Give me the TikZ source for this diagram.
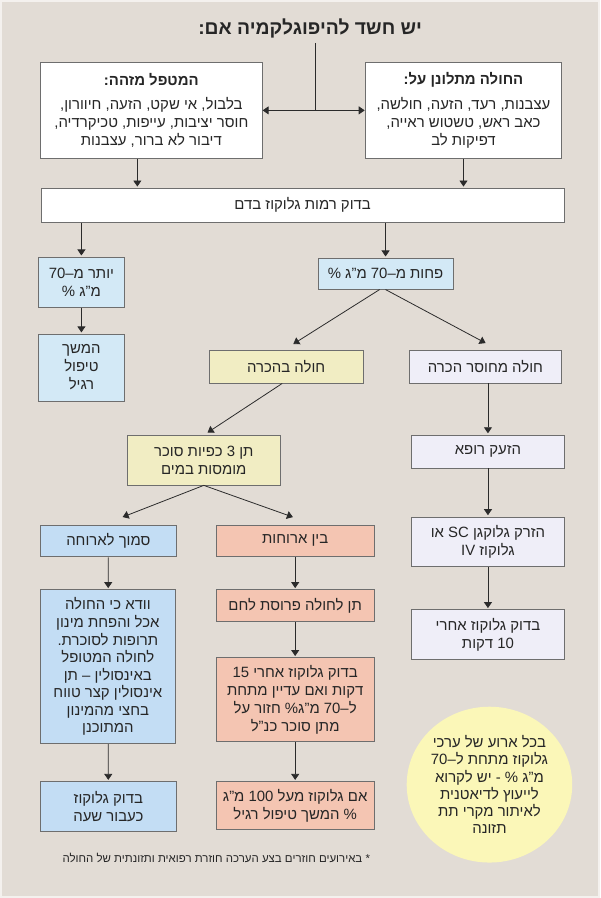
\documentclass[tikz,border=0pt]{standalone}
\usepackage{fontspec}
\setmainfont{Liberation Sans}[Script=Hebrew]
\TeXXeTstate=1
\usetikzlibrary{arrows.meta,shapes.geometric}

\definecolor{bgc}{HTML}{E2DCD5}
\definecolor{edgec}{HTML}{6E6E6E}
\definecolor{arrc}{HTML}{2B2B2B}
\definecolor{txtc}{HTML}{262626}
\definecolor{lblue}{HTML}{D3E9F6}
\definecolor{mblue}{HTML}{C3DDF4}
\definecolor{salmon}{HTML}{F4C5B2}
\definecolor{ybox}{HTML}{F1EDC3}
\definecolor{lav}{HTML}{EFEEF8}
\definecolor{ycirc}{HTML}{FBF7B8}

\newcommand{\rl}[1]{\beginR #1\endR}

\begin{document}
\begin{tikzpicture}[x=0.75pt,y=-0.75pt,
        every node/.style={text=txtc},
        box/.style={rectangle,draw=edgec,line width=0.6pt,align=center,inner sep=2pt,
          font=\fontsize{11.2}{13.5}\selectfont},
        arr/.style={draw=arrc,line width=0.6pt,-{Triangle[width=6pt,length=4.5pt]}}]

        \fill[bgc] (0,0) rectangle (600,898);
        \draw[white!60!bgc,line width=1.5pt] (0.5,0.5) rectangle (599.5,897.5);

        \node[font=\fontsize{14.5}{17}\selectfont\bfseries] (title) at (310,28) {\rl{יש חשד להיפוגלקמיה אם:}};

        \begin{scope}[every node/.append style={box}]
          \node[fill=white,minimum width=166.5pt,minimum height=72pt] (watch) at (151,110)
            {\textbf{\rl{המטפל מזהה:}}\\[5pt]\rl{בלבול, אי שקט, הזעה, חיוורון,}\\\rl{חוסר יציבות, עייפות, טכיקרדיה,}\\\rl{דיבור לא ברור, עצבנות}};
          \node[fill=white,minimum width=147.75pt,minimum height=72pt] (compl) at (463.5,110)
            {\textbf{\rl{החולה מתלונן על:}}\\[5pt]\rl{עצבנות, רעד, הזעה, חולשה,}\\\rl{כאב ראש, טשטוש ראייה,}\\\rl{דפיקות לב}};
          \node[fill=white,minimum width=393pt,minimum height=25.5pt] (check) at (302.5,205) {\rl{בדוק רמות גלוקוז בדם}};

          \node[fill=lblue,minimum width=64.5pt,minimum height=37.5pt] (above) at (81,282) {\rl{יותר מ–70}\\\rl{מ"ג \%}};
          \node[fill=lblue,minimum width=64.5pt,minimum height=50.25pt] (cont) at (81,367.5) {\rl{המשך}\\\rl{טיפול}\\\rl{רגיל}};
          \node[fill=lblue,minimum width=101.25pt,minimum height=23.25pt] (below) at (385.5,273.5) {\rl{פחות מ–70 מ"ג \%}};

          \node[fill=ybox,minimum width=115.5pt,minimum height=24.75pt] (consc) at (286,366.5) {\rl{חולה בהכרה}};
          \node[fill=lav,minimum width=114.75pt,minimum height=24.75pt] (uncon) at (485.5,366.5) {\rl{חולה מחוסר הכרה}};

          \node[fill=ybox,minimum width=114.75pt,minimum height=37.5pt] (sugar) at (203.5,460) {\rl{תן 3 כפיות סוכר}\\\rl{מומסות במים}};
          \node[fill=lav,minimum width=115.5pt,minimum height=24.75pt] (doctor) at (488,451.5) {\rl{הזעק רופא}};
          \node[fill=lav,minimum width=115.5pt,minimum height=37.5pt] (inject) at (488,542) {\rl{הזרק גלוקגן SC או}\\\rl{גלוקוז IV}};
          \node[fill=lav,minimum width=115.5pt,minimum height=37.5pt] (ten) at (488,635) {\rl{בדוק גלוקוז אחרי}\\\rl{10 דקות}};

          \node[fill=mblue,minimum width=102pt,minimum height=24pt] (meal) at (108,541) {\rl{סמוך לארוחה}};
          \node[fill=salmon,minimum width=118.5pt,minimum height=24pt] (between) at (295,541) {\rl{בין ארוחות}};
          \node[fill=mblue,minimum width=101.25pt,minimum height=115.5pt,font=\fontsize{11.2}{13.2}\selectfont] (verify) at (107.5,667)
            {\rl{וודא כי החולה}\\\rl{אכל והפחת מינון}\\\rl{תרופות לסוכרת.}\\\rl{לחולה המטופל}\\\rl{באינסולין – תן}\\\rl{אינסולין קצר טווח}\\\rl{בחצי מהמינון}\\\rl{המתוכנן}};
          \node[fill=salmon,minimum width=118.5pt,minimum height=24pt] (bread) at (295,606) {\rl{תן לחולה פרוסת לחם}};
          \node[fill=salmon,minimum width=118.5pt,minimum height=63pt] (fifteen) at (295,700)
            {\rl{בדוק גלוקוז אחרי 15}\\\rl{דקות ואם עדיין מתחת}\\\rl{ל–70 מ"ג\% חזור על}\\\rl{מתן סוכר כנ"ל}};
          \node[fill=mblue,minimum width=102pt,minimum height=37.5pt] (hour) at (108,807) {\rl{בדוק גלוקוז}\\\rl{כעבור שעה}};
          \node[fill=salmon,minimum width=118.5pt,minimum height=36pt] (normal) at (295,806) {\rl{אם גלוקוז מעל 100 מ"ג}\\\rl{\% המשך טיפול רגיל}};
        \end{scope}

        \node[ellipse,fill=ycirc,inner sep=0pt,minimum width=116.25pt,minimum height=117pt,align=center,
          font=\fontsize{11.2}{13}\selectfont] (diet) at (489.5,785)
          {\rl{בכל ארוע של ערכי}\\\rl{גלוקוז מתחת ל–70}\\\rl{מ"ג \% - יש לקרוא}\\\rl{לייעוץ לדיאטנית}\\\rl{לאיתור מקרי תת}\\\rl{תזונה}};

        \node[font=\fontsize{8.6}{10}\selectfont] (note) at (216,858) {\rl{* באירועים חוזרים בצע הערכה חוזרת רפואית ותזונתית של החולה}};

        \coordinate (fork) at (315,110);
        \draw[draw=arrc,line width=0.6pt] (fork |- title.south) -- (fork);
        \draw[arr] (fork) -- (watch.east);
        \draw[arr] (fork) -- (compl.west);

        \begin{scope}[every path/.append style={shorten >=1pt}]
          \path[arr] ([xshift=-10.5pt]watch.south) -- ([xshift=-10.5pt]watch.south |- check.north);
          \path[arr] (compl.south) -- (compl.south |- check.north);
          \path[arr] (above.north |- check.south) -- (above.north);
          \path[arr] (below.north |- check.south) -- (below.north);
          \path[arr] (above) -- (cont);
          \path[arr] ([xshift=-4.5pt]below.south) -- ([xshift=4.5pt,yshift=3.75pt]consc.north);
          \path[arr] (below.south) -- ([xshift=1pt,yshift=4.5pt]uncon.north);
          \path[arr] ([xshift=-3pt]consc.south) -- ([xshift=2pt,yshift=1pt]sugar.north);
          \path[arr] (doctor.north |- uncon.south) -- (doctor.north);
          \path[arr] (doctor) -- (inject);
          \path[arr] (inject) -- (ten);
          \path[arr] (sugar.south) -- ([xshift=9.75pt,yshift=5.25pt]meal.north);
          \path[arr] (sugar.south) -- ([xshift=-0.75pt,yshift=5.25pt]between.north);
          \path[arr] (meal) -- (verify);
          \path[arr] (verify) -- (hour);
          \path[arr] (between) -- (bread);
          \path[arr] (bread) -- (fifteen);
          \path[arr] (fifteen) -- (normal);
        \end{scope}

      \end{tikzpicture}
\end{document}
